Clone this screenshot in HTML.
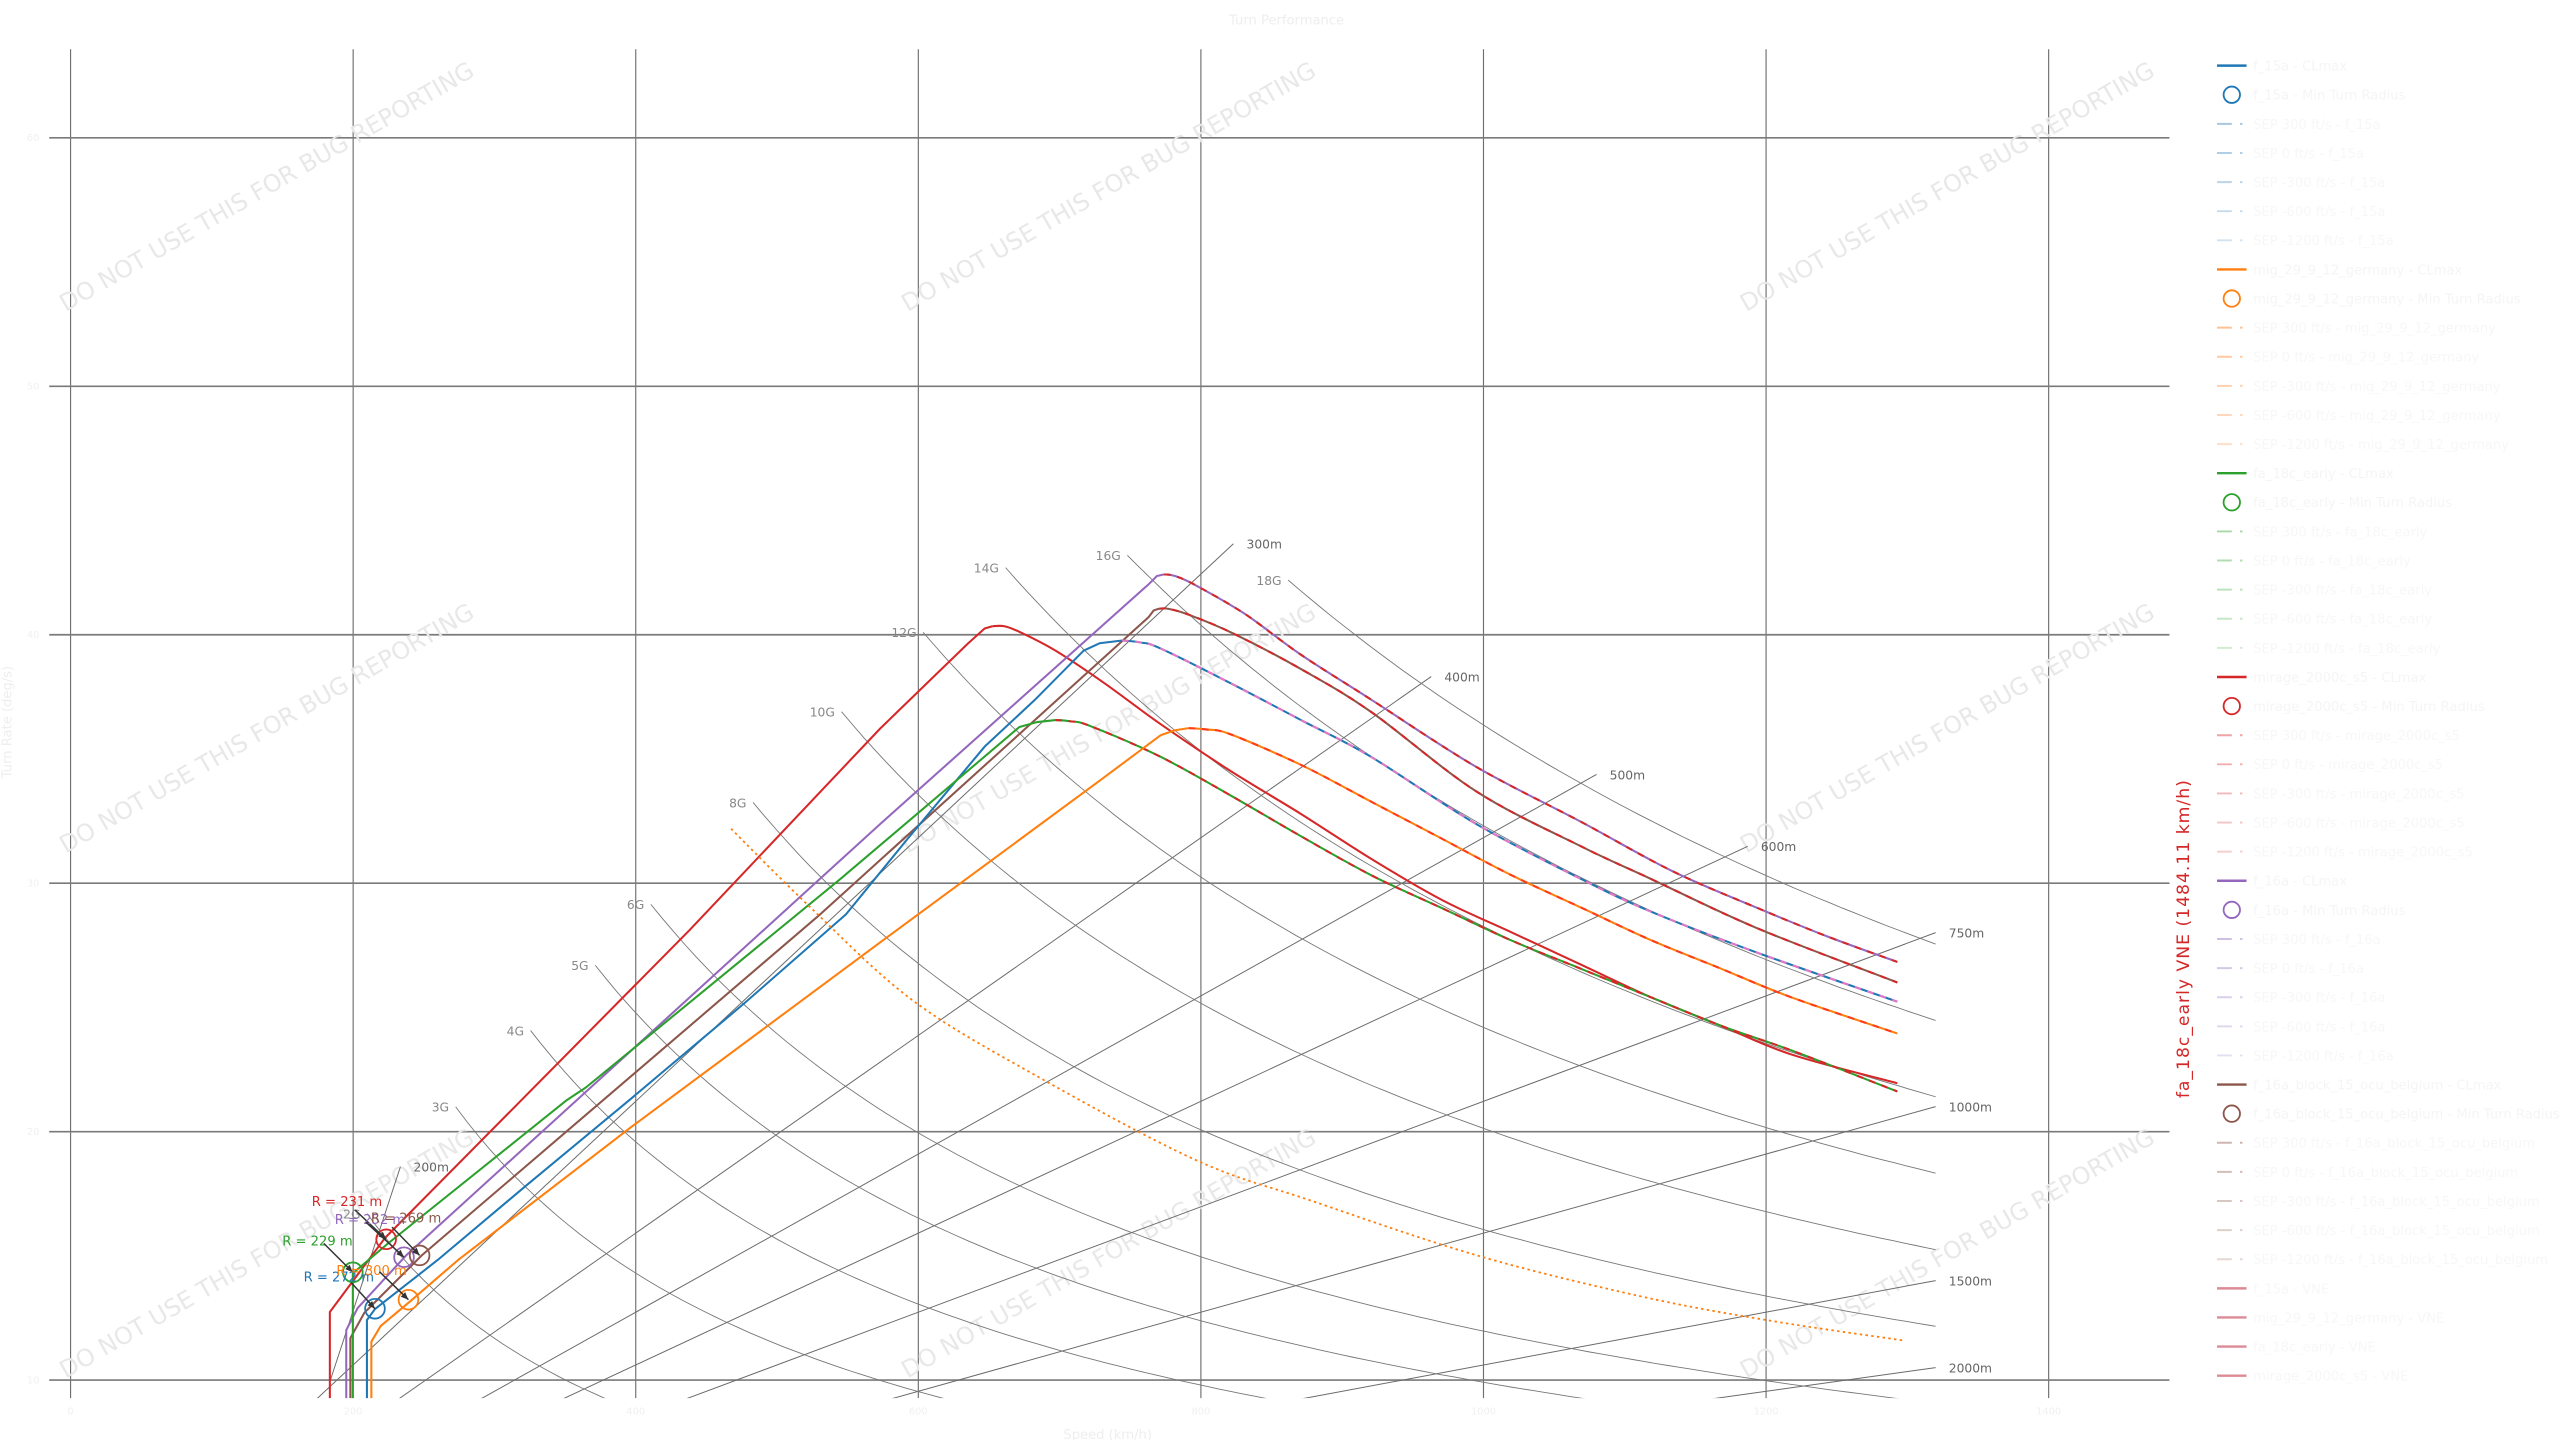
<!DOCTYPE html>
<html><head><meta charset="utf-8"><style>
html,body{margin:0;padding:0;background:#fff;}
svg{display:block;}
text{font-family:"DejaVu Sans","Liberation Sans",sans-serif;}
</style></head><body>
<svg id="s" width="2560" height="1440" viewBox="0 0 1560 877.5" xmlns="http://www.w3.org/2000/svg">
<defs><clipPath id="c"><rect x="30" y="30" width="1292" height="822"/></clipPath></defs>
<text x="784" y="15" font-size="8" fill="#eeeeee" text-anchor="middle">Turn Performance</text>
<text x="675" y="877" font-size="8" fill="#eeeeee" text-anchor="middle">Speed (km/h)</text>
<text transform="translate(7,440) rotate(-90)" font-size="8" fill="#eeeeee" text-anchor="middle">Turn Rate (deg/s)</text>
<g id="grid"></g>
<g id="wm" font-size="14.5" fill="#e8e8e8" text-anchor="middle"></g>
<g id="gl" clip-path="url(#c)" fill="none"></g>
<g id="lab"></g>
<g id="cv" clip-path="url(#c)" fill="none" stroke-linejoin="round"></g>
<g id="ann"></g>
<g id="leg"></g>
<text transform="translate(1334,572) rotate(-90)" font-size="10.5" fill="#d62728" text-anchor="middle" letter-spacing="0.6">fa_18c_early VNE (1484.11 km/h)</text>
</svg>
<script>
var NS="http://www.w3.org/2000/svg";
function el(p,t,a,txt){var e=document.createElementNS(NS,t);for(var k in a)e.setAttribute(k,a[k]);if(txt!=null)e.textContent=txt;document.getElementById(p).appendChild(e);return e;}
function X(v){return 43+v*0.861;}
function Y(w){return 992.4-15.14*w;}
[0,200,400,600,800,1000,1200,1400].forEach(function(v){el("grid","line",{x1:X(v),x2:X(v),y1:30,y2:852,stroke:"#6f6f6f","stroke-width":0.7});
 el("grid","text",{x:X(v),y:862,"font-size":6,fill:"#f0f0f0","text-anchor":"middle"},v);});
[10,20,30,40,50,60].forEach(function(w){el("grid","line",{x1:30,x2:1322,y1:Y(w),y2:Y(w),stroke:"#7a7a7a","stroke-width":1});
 el("grid","text",{x:24,y:Y(w)+2,"font-size":6,fill:"#f0f0f0","text-anchor":"end"},w);});
[[165,118],[678,118],[1189,118],[165,448],[678,448],[1189,448],[165,768],[678,768],[1189,768]].forEach(function(p){
 el("wm","text",{transform:"translate("+p[0]+","+p[1]+") rotate(-30)"},"DO NOT USE THIS FOR BUG REPORTING");});
var R=[[300,823],[400,963],[500,1080],[600,1187],[750,1320],[1000,1320],[1500,1320],[2000,1320]];
R.forEach(function(r){var k=57.2958/3.6/r[0];var v0=9.2/k;var v1=r[1];
 el("gl","line",{x1:X(v0),y1:Y(9.2),x2:X(v1),y2:Y(v1*k),stroke:"#6a6a6a","stroke-width":0.6});
 el("lab","text",{x:X(v1)+8,y:Y(v1*k)+3,"font-size":7.5,fill:"#666"},r[0]+"m");});
el("gl","line",{x1:201,y1:842,x2:244,y2:711,stroke:"#6a6a6a","stroke-width":0.6});
el("lab","text",{x:252,y:714,"font-size":7.5,fill:"#666"},"200m");
var G=[[2,16.7],[3,21],[4,24.07],[5,26.7],[6,29.15],[8,33.25],[10,36.9],[12,40.1],[14,42.7],[16,43.2],[18,42.2]];
G.forEach(function(g){var K=9.81*Math.sqrt(g[0]*g[0]-1)*57.2958*3.6;var v0=K/g[1];var d="";
 for(var v=v0;v<=1320;v+=8){var w=K/v;d+=(d?"L":"M")+X(v).toFixed(1)+" "+Y(w).toFixed(1);if(w<9)break;}
 var v=1320;if(K/v>9)d+="L"+X(v).toFixed(1)+" "+Y(K/v).toFixed(1);
 el("gl","path",{d:d,stroke:"#777","stroke-width":0.55});
 el("lab","text",{x:X(v0)-4,y:Y(g[1])+3,"font-size":7.5,fill:"#888","text-anchor":"end"},g[0]+"G");});
function P(a){var d="M"+a[0][0]+" "+a[0][1];
 for(var i=0;i<a.length-1;i++){var p0=a[Math.max(i-1,0)],p1=a[i],p2=a[i+1],p3=a[Math.min(i+2,a.length-1)];
  var c1=[p1[0]+(p2[0]-p0[0])/6,p1[1]+(p2[1]-p0[1])/6],c2=[p2[0]-(p3[0]-p1[0])/6,p2[1]-(p3[1]-p1[1])/6];
  d+="C"+c1[0].toFixed(1)+" "+c1[1].toFixed(1)+" "+c2[0].toFixed(1)+" "+c2[1].toFixed(1)+" "+p2[0]+" "+p2[1];}
 return d;}
function curve(asc,desc,col,dcol){
 el("cv","path",{d:"M"+asc.map(function(p){return p[0]+" "+p[1];}).join("L")+" L"+desc[0][0]+" "+desc[0][1],stroke:col,"stroke-width":1.25});
 el("cv","path",{d:P(desc),stroke:col,"stroke-width":1.25});
 if(dcol)el("cv","path",{d:P(desc),stroke:dcol,"stroke-width":1.25,"stroke-dasharray":"4 4"});}
curve([[201,860],[201,799.5],[234.5,754.5],[420,567],[536.3,444],[590,392],[600,383]],
 [[604.7,381.6],[612,381.6],[621.8,385.3],[643.2,396.5],[673.1,416.4],[707.3,441.3],[750,469.9],[792.8,496],[835.5,523.3],[878.3,548.2],[921,568.1],[963.8,588],[1006.5,607.9],[1049.3,625.3],[1092,642.7],[1156.2,660.1]],"#d62728",null);
curve([[211,860],[211,810.5],[218,797],[247.5,765],[536.3,502.2],[700,356],[705,351]],
 [[709.4,350],[716,351],[728.7,356.7],[758.6,374.1],[792.8,399],[835.5,426.3],[899.7,467.4],[963.8,501],[1019,530.8],[1070.7,553.2],[1113.4,570.6],[1156.2,586.2]],"#9467bd","#d62728");
curve([[213.5,860],[213.5,815.4],[222,800],[257,765],[500,557],[700,376],[703,372]],
 [[706.4,370.9],[712,371],[724.4,374.6],[750,385.3],[792.8,407.7],[835.5,433.8],[899.7,482.3],[963.8,515.9],[1006.5,535.8],[1070.7,565.6],[1156.2,598.7]],"#8c564b","#d62728");
curve([[223.6,860],[223.6,804.4],[228.5,797.7],[266.7,767.8],[320,723],[384.9,669.2],[453.3,611.6],[515.5,557.2],[552.8,511.5],[600,455],[630.5,426.6],[660.3,396.5],[670,392]],
 [[683.8,390.3],[695,391.5],[707.3,395.2],[750,416.4],[792.8,438.8],[835.5,461.2],[899.7,502.2],[963.8,535.8],[1006.5,555.7],[1070.7,580.5],[1156.2,610.4]],"#1f77b4","#e377c2");
curve([[215,860],[215,775.9],[236.6,757.6],[345.5,670.3],[357,662.7],[512.4,535.4],[621.2,443],[632,440]],
 [[643.2,438.8],[652,439.5],[664.6,442.5],[707.3,461.2],[750,484.8],[792.8,509.6],[835.5,533.3],[878.3,553.2],[921,573.1],[963.8,590.5],[1006.5,607.9],[1049.3,625.3],[1092,640.2],[1156.2,665.1]],"#2ca02c","#d62728");
curve([[226.3,860],[226.3,817.6],[232,808],[249.7,793.2],[279.2,767.8],[384.9,686.6],[536.3,574.3],[670.3,475.6],[707.3,448],[716,445]],
 [[724.4,443.7],[735,444.5],[750,447.5],[792.8,466.1],[835.5,488.5],[878.3,510.9],[921,533.3],[963.8,553.2],[1006.5,573.1],[1049.3,590.5],[1092,607.9],[1156.2,629.8]],"#ff7f0e","#ff3b1a");
el("cv","path",{d:P([[445.5,505],[493.7,552.8],[555.9,609.4],[630.5,655],[728.7,706.9],[800,732],[900,765],[1000,790],[1080,805],[1161,817]]),stroke:"#ff7f0e","stroke-width":1.1,"stroke-dasharray":"1.5 2"});
var A=[["#d62728","R = 231 m",190,735,216.3,737.3,235.3,755.2],
["#9467bd","R = 252 m",204,746,223,744.8,246.2,766.1],
["#8c564b","R = 269 m",226,745,238.9,747.8,255.7,765],
["#2ca02c","R = 229 m",172,759,197.3,757.7,215,775.3],
["#1f77b4","R = 272 m",185,781,214.1,781.7,228.5,797.5],
["#ff7f0e","R = 300 m",205,777,231.3,775,248.9,792]];
A.forEach(function(a){
 el("ann","circle",{cx:a[6],cy:a[7],r:6,fill:"none",stroke:a[0],"stroke-width":1.1});
 el("ann","text",{x:a[2],y:a[3],"font-size":8,fill:a[0]},a[1]);
 el("ann","line",{x1:a[4],y1:a[5],x2:a[6],y2:a[7],stroke:"#333","stroke-width":0.9});
 var ang=Math.atan2(a[7]-a[5],a[6]-a[4]);var x=a[6],y=a[7];
 var p=[[x,y],[x-5*Math.cos(ang-0.4),y-5*Math.sin(ang-0.4)],[x-5*Math.cos(ang+0.4),y-5*Math.sin(ang+0.4)]];
 el("ann","polygon",{points:p.map(function(q){return q[0].toFixed(1)+","+q[1].toFixed(1);}).join(" "),fill:"#333"});});
var AC=[["f_15a","#1f77b4","#a6c8e2"],["mig_29_9_12_germany","#ff7f0e","#ffc194"],["fa_18c_early","#2ca02c","#a8d8a8"],["mirage_2000c_s5","#d62728","#eea3a4"],["f_16a","#9467bd","#cfc0e3"],["f_16a_block_15_ocu_belgium","#8c564b","#cdb5b0"]];
var row=0;function ly(){return 40+17.74*(row++);}
AC.forEach(function(a){
 var y=ly();el("leg","line",{x1:1351,x2:1369,y1:y,y2:y,stroke:a[1],"stroke-width":1.5});
 el("leg","text",{x:1373,y:y+3,"font-size":8,fill:"#f5f5f5"},a[0]+" - CLmax");
 y=ly();el("leg","circle",{cx:1360,cy:y,r:5,fill:"none",stroke:a[1],"stroke-width":1.1});
 el("leg","text",{x:1373,y:y+3,"font-size":8,fill:"#f5f5f5"},a[0]+" - Min Turn Radius");
 ["300","0","-300","-600","-1200"].forEach(function(s,i){y=ly();
  el("leg","line",{x1:1351,x2:1369,y1:y,y2:y,stroke:a[2],"stroke-width":1.2,"stroke-dasharray":"9 5 1.5 5","opacity":1-i*0.12});
  el("leg","text",{x:1373,y:y+3,"font-size":8,fill:"#f7f7f7"},"SEP "+s+" ft/s - "+a[0]);});});
["f_15a","mig_29_9_12_germany","fa_18c_early","mirage_2000c_s5"].forEach(function(n){var y=ly();
 el("leg","line",{x1:1351,x2:1369,y1:y,y2:y,stroke:"#dc8a95","stroke-width":1.5});
 el("leg","text",{x:1373,y:y+3,"font-size":8,fill:"#f7f7f7"},n+" - VNE");});
</script>
</body></html>
